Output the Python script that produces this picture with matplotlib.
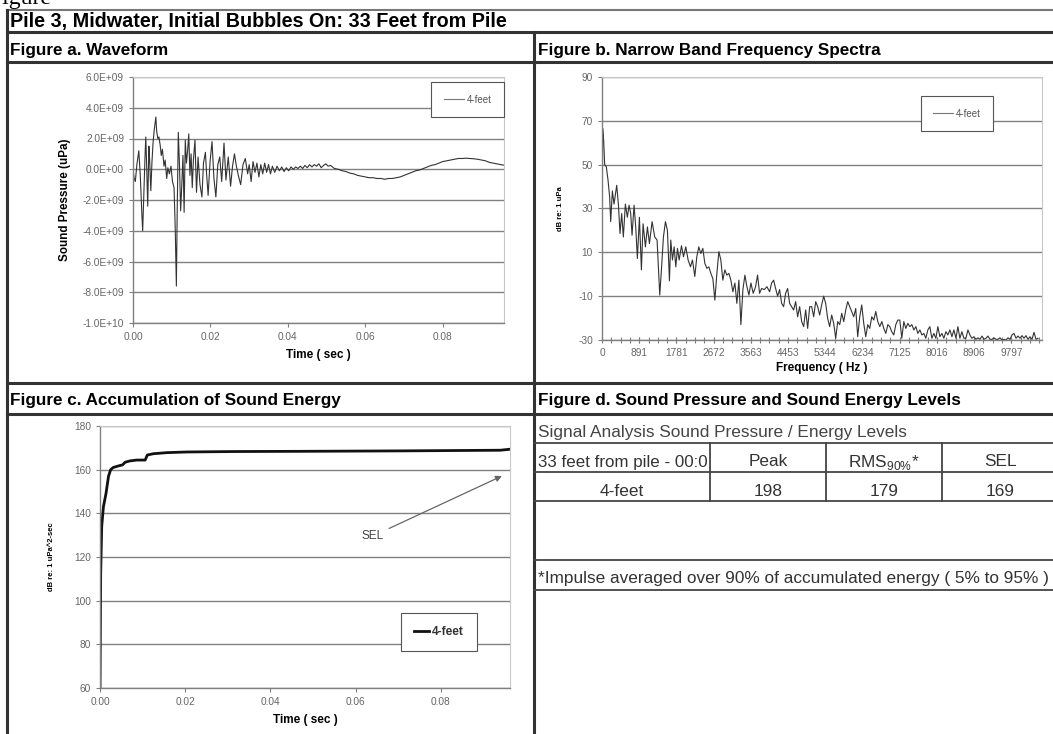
import matplotlib
matplotlib.use("Agg")
import matplotlib.pyplot as plt
import matplotlib.ticker as mticker
from matplotlib.lines import Line2D
import numpy as np

plt.rcParams['font.family'] = ['Liberation Sans', 'DejaVu Sans']
plt.rcParams['mathtext.fontset'] = 'custom'
plt.rcParams['mathtext.rm'] = 'Liberation Sans'
plt.rcParams['axes.unicode_minus'] = False

# ── Data ──────────────────────────────────────────────────────────────────────
TITLE = "Pile 3, Midwater, Initial Bubbles On: 33 Feet from Pile"
SERIES = "4-feet"

# Figure a: waveform (time in ms, pressure in 1e9 uPa)
wave_t_ms = [0.0, 0.3, 0.6, 1.0, 1.5, 1.9, 2.3, 2.5, 2.8, 3.1, 3.3, 3.5, 3.8, 4.1, 4.3,
             4.6, 4.9, 5.2, 5.5, 5.9, 6.1, 6.4, 6.7, 7.0, 7.3, 7.6, 8.0, 8.3, 8.7, 9.0,
             9.4, 9.8, 10.2, 10.6, 10.9, 11.2, 11.4, 11.7, 12.0, 12.3, 12.6, 12.9, 13.2,
             13.5, 13.8, 14.1, 14.4, 14.7, 15.0, 15.3, 15.6, 16.0, 16.4, 16.8, 17.3,
             17.8, 18.2, 18.7, 19.0, 19.4, 19.9, 20.4, 20.9, 21.4, 21.9, 22.4, 22.9,
             23.5, 24.0, 24.6, 25.2, 25.7, 26.2, 26.7, 27.2, 27.8, 28.4, 29.0, 29.6,
             30.0, 30.5, 31.0, 31.5, 32.0, 32.5, 33.0, 33.5, 34.0, 34.5, 35.0, 35.5,
             36.0, 36.6, 37.2, 37.8, 38.4, 39.0, 39.6, 40.2, 40.8, 41.4, 42.0, 42.6,
             43.2, 43.8, 44.4, 45.0, 45.6, 46.2, 46.8, 47.4, 48.0, 48.6, 49.2, 49.8,
             50.4, 51.0, 52.0, 53.0, 54.0, 55.0, 56.0, 57.0, 58.0, 59.0, 60.0, 61.0,
             62.0, 63.0, 64.0, 65.0, 66.0, 67.0, 68.0, 69.0, 70.0, 71.0, 72.0, 73.0,
             74.0, 75.0, 76.0, 77.0, 78.0, 79.0, 80.0, 81.0, 82.0, 83.0, 84.0, 85.0,
             86.0, 87.0, 88.0, 89.0, 90.0, 91.0, 92.0, 93.0, 94.0, 95.0, 96.0]
wave_p_e9 = [0.0, -0.6, -0.8, 0.3, 1.2, -0.5, -3.0, -4.0, -1.5, 0.8, 2.1, 0.5, -2.4, 1.5, 0.6,
             -1.4, 0.5, 1.8, 2.6, 3.4, 2.5, 2.0, 2.1, 1.6, 0.9, 1.3, 0.2, 0.6, -0.6, 0.1,
             -0.3, 0.2, -0.8, -1.2, -3.8, -7.6, -3.0, 2.4, 0.3, -2.7, -1.0, 0.9, -2.8,
             1.9, 0.4, 1.2, 2.3, -0.4, 1.0, -1.2, 0.6, 1.9, -1.5, 0.8, -1.0,
             -1.8, 0.4, 1.1, -0.3, -1.7, 0.5, 1.8, -0.6, -1.8, 0.3, 0.8, -0.8,
             1.7, -0.7, 0.8, -1.1, 0.2, 1.0, 0.2, -0.4, -1.0, 0.3, 0.7, -0.3,
             0.3, -0.8, 0.5, -0.2, 0.4, -0.5, 0.3, -0.3, 0.4, -0.2, 0.3, -0.3,
             0.2, -0.2, 0.2, -0.1, 0.15, -0.15, 0.1, -0.1, 0.15, 0.0, 0.15, 0.05,
             0.2, 0.05, 0.25, 0.1, 0.3, 0.15, 0.3, 0.2, 0.35, 0.1, 0.25, 0.35,
             0.2, 0.25, 0.05, 0.0, -0.1, -0.15, -0.25, -0.3, -0.4, -0.45, -0.5, -0.55,
             -0.55, -0.6, -0.6, -0.65, -0.6, -0.6, -0.55, -0.5, -0.4, -0.3, -0.2, -0.1,
             -0.05, 0.05, 0.15, 0.25, 0.3, 0.4, 0.5, 0.55, 0.6, 0.65, 0.7, 0.7,
             0.72, 0.7, 0.68, 0.65, 0.6, 0.55, 0.45, 0.4, 0.35, 0.3, 0.25]

# Figure b: narrow band spectrum (Hz, dB re 1 uPa)
spec_hz = [0, 16, 40, 64, 104, 144, 184, 208, 248, 288, 352, 392, 431, 471, 511, 559, 607,
           647, 687, 719, 767, 807, 847, 895, 943, 983, 1039, 1087, 1135, 1199, 1262, 1318,
           1382, 1422, 1470, 1518, 1566, 1614, 1646, 1686, 1726, 1766, 1806, 1846, 1902,
           1950, 2005, 2061, 2117, 2165, 2221, 2269, 2317, 2365, 2413, 2461, 2509, 2557,
           2605, 2653, 2701, 2749, 2797, 2844, 2892, 2940, 2988, 3036, 3084, 3132, 3180,
           3228, 3276, 3324, 3372, 3420, 3468, 3516, 3564, 3619, 3675, 3723, 3771, 3819,
           3883, 3947, 4011, 4059, 4107, 4155, 4203, 4251, 4299, 4347, 4394, 4442, 4490,
           4538, 4586, 4634, 4682, 4730, 4778, 4826, 4874, 4922, 4970, 5018, 5066, 5114,
           5162, 5209, 5257, 5305, 5353, 5401, 5449, 5497, 5545, 5593, 5641, 5689, 5737,
           5785, 5833, 5881, 5929, 5977, 6025, 6072, 6120, 6168, 6216, 6264, 6312, 6360,
           6408, 6456, 6504, 6552, 6600, 6648, 6696, 6744, 6792, 6840, 6887, 6935, 6983,
           7031, 7079, 7127, 7175, 7223, 7271, 7319, 7367, 7415, 7463, 7511, 7559, 7607,
           7655, 7702, 7750, 7798, 7846, 7894, 7942, 7990, 8038, 8086, 8134, 8182, 8230,
           8278, 8326, 8374, 8422, 8470, 8517, 8565, 8613, 8661, 8709, 8757, 8805, 8853,
           8901, 8949, 8997, 9045, 9093, 9141, 9189, 9237, 9285, 9332, 9380, 9428, 9476,
           9524, 9572, 9620, 9668, 9716, 9764, 9812, 9860, 9908, 9956, 10004, 10051,
           10099, 10147, 10195, 10243, 10291, 10339, 10387, 10435]
spec_db = [0.4, 66.5, 61, 50, 49, 43, 35, 24, 38, 32, 40.6, 32, 18.6, 27.7, 17, 32, 26,
           31.5, 27.7, 17.8, 31.5, 21.6, 7.2, 26, 2, 23, 12.5, 21.6, 14, 24, 17, 15.6,
           -9.5, 2, 17, 24, 20, -3, 15.6, 6.5, 12.5, 3.4, 11.8, 6.5, 13,
           8, 12.5, 6.5, 3.4, 6.5, -1, 8, 12.5, 9.5, 11.8, 5, 2.7, 3.4,
           0.4, -2, -11.8, 0.4, 10.3, 6.5, -2.7, 2, -0.4, 0.4, -2.7, -8, -4,
           -13.3, -2.7, -23, -7, -0.4, -5.7, -9.5, -4, -8.7, -5.7, -0.4, -8.7, -6.5,
           -7, -5.7, -8, -4, -2.7, -6.5, -10, -7, -13.3, -14.8, -8.7, -6.5, -13.3,
           -14.8, -16.3, -12.5, -19.4, -14.8, -21.6, -23.9, -16.3, -24.7, -14.8, -14.8, -19.4,
           -12.5, -14.8, -18.6, -14, -10, -13.3, -20.2, -23.9, -18.6, -22.4, -29.2, -21.6,
           -23, -17.8, -21.6, -16.3, -12.5, -14.8, -17, -19.4, -15.6, -28.5, -19.4, -14,
           -22.4, -28.5, -23, -24.7, -19.4, -20.9, -17, -21.6, -23.9, -21.6, -24.7, -27,
           -23, -23.9, -26.2, -27.7, -23, -20.9, -20.9, -29.2, -21.6, -24.7, -22.4, -23.9,
           -23, -25.4, -23.9, -27, -25.4, -27.7, -27, -29.2, -25.4, -23.9, -29.2, -27,
           -29.2, -23.9, -28.5, -27, -29.2, -26.2, -27.7, -25.4, -28.5, -25.4, -29.2, -23.9,
           -29.2, -26.2, -29.2, -29.2, -25.4, -27.7, -29.2, -28.5, -29.7, -29, -29.7, -28.2,
           -29.7, -29.2, -28.2, -29.7, -29.7, -29, -29.7, -29.7, -29, -30, -29.7, -30,
           -29, -29.7, -27.7, -27, -29.2, -28.2, -29.2, -28, -29.2, -28, -29.7, -28.5,
           -29.7, -26.5, -29.7, -29.2]
spec_tick_labels = ["0", "891", "1781", "2672", "3563", "4453", "5344", "6234",
                    "7125", "8016", "8906", "9797"]

# Figure c: accumulated sound energy (sec, dB re 1 uPa^2-sec)
sel_t = [0.0, 0.00016, 0.0004, 0.0008, 0.0014, 0.002, 0.0025, 0.0031, 0.0043, 0.0053,
         0.0059, 0.007, 0.0086, 0.0106, 0.0111, 0.0125, 0.0157, 0.0204, 0.0313, 0.047,
         0.0705, 0.0939, 0.0959]
sel_db = [58, 112.6, 134, 143, 149, 157, 160, 161, 161.7, 162.2,
          163.4, 164, 164.4, 164.4, 166.7, 167.3, 167.8, 168.1, 168.3, 168.4,
          168.6, 168.9, 169.3]

# Figure d: table
table_caption = "Signal Analysis Sound Pressure / Energy Levels"
table_row_label = "33 feet from pile - 00:0"
table_cols = ["Peak", r"RMS$_{\mathregular{90\%}}$*", "SEL"]
table_values = [198, 179, 169]
table_note = "*Impulse averaged over 90% of accumulated energy ( 5% to 95% )"

# ── Layout helpers (pixel coordinates, y measured from top) ───────────────────
W, H = 1053, 734
fig = plt.figure(figsize=(W / 100, H / 100), dpi=100)
fig.patch.set_facecolor("white")


def fx(x):
    return x / W


def fy(y):
    return 1 - y / H


def hline(y, x0, x1, lw=2.0, color="#333333"):
    fig.add_artist(Line2D([fx(x0), fx(x1)], [fy(y), fy(y)], lw=lw, color=color,
                          transform=fig.transFigure))


def vline(x, y0, y1, lw=2.0, color="#333333"):
    fig.add_artist(Line2D([fx(x), fx(x)], [fy(y0), fy(y1)], lw=lw, color=color,
                          transform=fig.transFigure))


def axes_px(left, top, right, bottom):
    return fig.add_axes([fx(left), fy(bottom), (right - left) / W, (bottom - top) / H])


def excel_style(ax):
    ax.set_facecolor("white")
    for s in ["top", "right"]:
        ax.spines[s].set_color("#c8c8c8")
        ax.spines[s].set_linewidth(0.8)
    for s in ["left", "bottom"]:
        ax.spines[s].set_color("#808080")
        ax.spines[s].set_linewidth(1.0)
    ax.yaxis.grid(True, color="#808080", lw=1.0)
    ax.set_axisbelow(True)
    ax.tick_params(colors="#808080", labelcolor="#666666", labelsize=7.3,
                   length=3, width=0.8)


# ── Frame / headers ───────────────────────────────────────────────────────────
fig.text(fx(-11), fy(4), "Figure", family="Liberation Serif", fontsize=17,
         va="baseline", ha="left")
hline(10, 7, W, lw=1.5, color="#777777")
hline(32, 7, W, lw=2.2)
hline(62, 7, W, lw=2.2)
hline(383, 7, W, lw=2.2)
hline(414, 7, W, lw=2.2)
vline(7, 10, H, lw=2.2)
vline(534, 32, H, lw=2.2)

fig.text(fx(10), fy(21), TITLE, fontsize=14.2, fontweight="bold", va="center")
fig.text(fx(10), fy(51), "Figure a. Waveform", fontsize=12.3, fontweight="bold", va="center")
fig.text(fx(538), fy(51), "Figure b. Narrow Band Frequency Spectra", fontsize=12.3,
         fontweight="bold", va="center")
fig.text(fx(10), fy(400), "Figure c. Accumulation of Sound Energy", fontsize=12.3,
         fontweight="bold", va="center")
fig.text(fx(538), fy(400), "Figure d. Sound Pressure and Sound Energy Levels", fontsize=12.3,
         fontweight="bold", va="center")

# ── Figure a ──────────────────────────────────────────────────────────────────
ax_a = axes_px(133, 77, 504, 323)
excel_style(ax_a)
ax_a.plot(np.array(wave_t_ms) / 1000.0, np.array(wave_p_e9) * 1e9, color="#333333",
          lw=0.8, label=SERIES)
ax_a.set_xlim(0, 0.0958)
ax_a.set_ylim(-1.0e10, 6.0e9)
ax_a.set_yticks(np.arange(-1.0e10, 6.1e9, 2.0e9))
ax_a.set_xticks([0.0, 0.02, 0.04, 0.06, 0.08])
ax_a.xaxis.set_major_formatter(mticker.FuncFormatter(lambda v, _: f"{v:.2f}"))
ax_a.yaxis.set_major_formatter(mticker.FuncFormatter(lambda v, _: f"{v:.1E}"))
ax_a.set_xlabel("Time ( sec )", fontsize=8.5, fontweight="bold", labelpad=5)
ax_a.set_ylabel("Sound Pressure (uPa)", fontsize=8.4, fontweight="bold", labelpad=8)
leg = ax_a.legend(loc="upper right", bbox_to_anchor=(1.0, 0.98), fancybox=False,
                  edgecolor="#555555", framealpha=1, fontsize=7, labelcolor="#555555",
                  borderpad=1.3, handlelength=2.0, handletextpad=0.3, borderaxespad=0)
leg.get_frame().set_linewidth(0.8)
for ln in leg.get_lines():
    ln.set_color("#777777")

# ── Figure b ──────────────────────────────────────────────────────────────────
ax_b = axes_px(602, 77, 1042, 340)
excel_style(ax_b)
ax_b.plot(spec_hz, spec_db, color="#333333", lw=0.8, label=SERIES)
ax_b.set_xlim(0, 10530)
ax_b.set_ylim(-30, 90)
ax_b.set_yticks(np.arange(-30, 91, 20))
ax_b.set_xticks([int(s) for s in spec_tick_labels])
ax_b.set_xticklabels(spec_tick_labels)
ax_b.xaxis.set_minor_locator(mticker.MultipleLocator(890.6 / 4))
ax_b.tick_params(axis="x", which="both", direction="inout", length=5)
ax_b.tick_params(axis="x", which="minor", colors="#808080", length=5, width=0.8)
ax_b.set_xlabel("Frequency ( Hz )", fontsize=8.5, fontweight="bold", labelpad=3)
ax_b.set_ylabel("dB re: 1 uPa", fontsize=5.5, fontweight="bold", labelpad=10)
leg = ax_b.legend(loc="upper right", bbox_to_anchor=(0.889, 0.928), fancybox=False,
                  edgecolor="#555555", framealpha=1, fontsize=7, labelcolor="#555555",
                  borderpad=1.3, handlelength=2.0, handletextpad=0.3, borderaxespad=0)
leg.get_frame().set_linewidth(0.8)
for ln in leg.get_lines():
    ln.set_color("#777777")

# ── Figure c ──────────────────────────────────────────────────────────────────
ax_c = axes_px(100, 426, 510, 688)
excel_style(ax_c)
ax_c.plot(sel_t, sel_db, color="#111111", lw=2.0, label=SERIES)
ax_c.set_xlim(0, 0.0962)
ax_c.set_ylim(60, 180)
ax_c.set_yticks(np.arange(60, 181, 20))
ax_c.set_xticks([0.0, 0.02, 0.04, 0.06, 0.08])
ax_c.xaxis.set_major_formatter(mticker.FuncFormatter(lambda v, _: f"{v:.2f}"))
ax_c.set_xlabel("Time ( sec )", fontsize=8.5, fontweight="bold", labelpad=5)
ax_c.set_ylabel("dB re: 1 uPa^2-sec", fontsize=5.5, fontweight="bold", labelpad=14)
ax_c.annotate("SEL", xy=(0.0943, 157.1), xytext=(0.064, 129.6), fontsize=8.5,
              color="#444444", ha="center", va="center",
              arrowprops=dict(arrowstyle="-|>", color="#666666", lw=0.9,
                              shrinkA=2, shrinkB=0, mutation_scale=9))
leg = ax_c.legend(loc="upper right", bbox_to_anchor=(0.919, 0.286), fancybox=False,
                  edgecolor="#555555", framealpha=1, fontsize=8.6, labelcolor="#333333",
                  borderpad=1.1, handlelength=1.3, handletextpad=0.2, borderaxespad=0,
                  prop={"weight": "bold", "size": 8.6})
leg.get_frame().set_linewidth(0.8)

# ── Figure d: table ───────────────────────────────────────────────────────────
tcol = "#333333"
fig.text(fx(538), fy(433), table_caption, fontsize=12.4, color="#444444", va="center")
for y in [443, 472, 501, 560, 590]:
    hline(y, 534, W, lw=1.3, color="#444444")
for x in [710, 826, 942]:
    vline(x, 443, 501, lw=1.3, color="#444444")
col_centers = [768, 884, 1000]
fig.text(fx(538), fy(462), table_row_label, fontsize=12.2, color=tcol, va="center")
for cx, name, val in zip(col_centers, table_cols, table_values):
    fig.text(fx(cx), fy(462), name, fontsize=12.4, color=tcol, va="center", ha="center")
    fig.text(fx(cx), fy(491), str(val), fontsize=12.4, color=tcol, va="center", ha="center")
fig.text(fx(622), fy(491), SERIES, fontsize=12.4, color=tcol, va="center", ha="center")
fig.text(fx(538), fy(579), table_note, fontsize=12.4, color=tcol, va="center")

fig.savefig("out.png", dpi=100, facecolor="white")
